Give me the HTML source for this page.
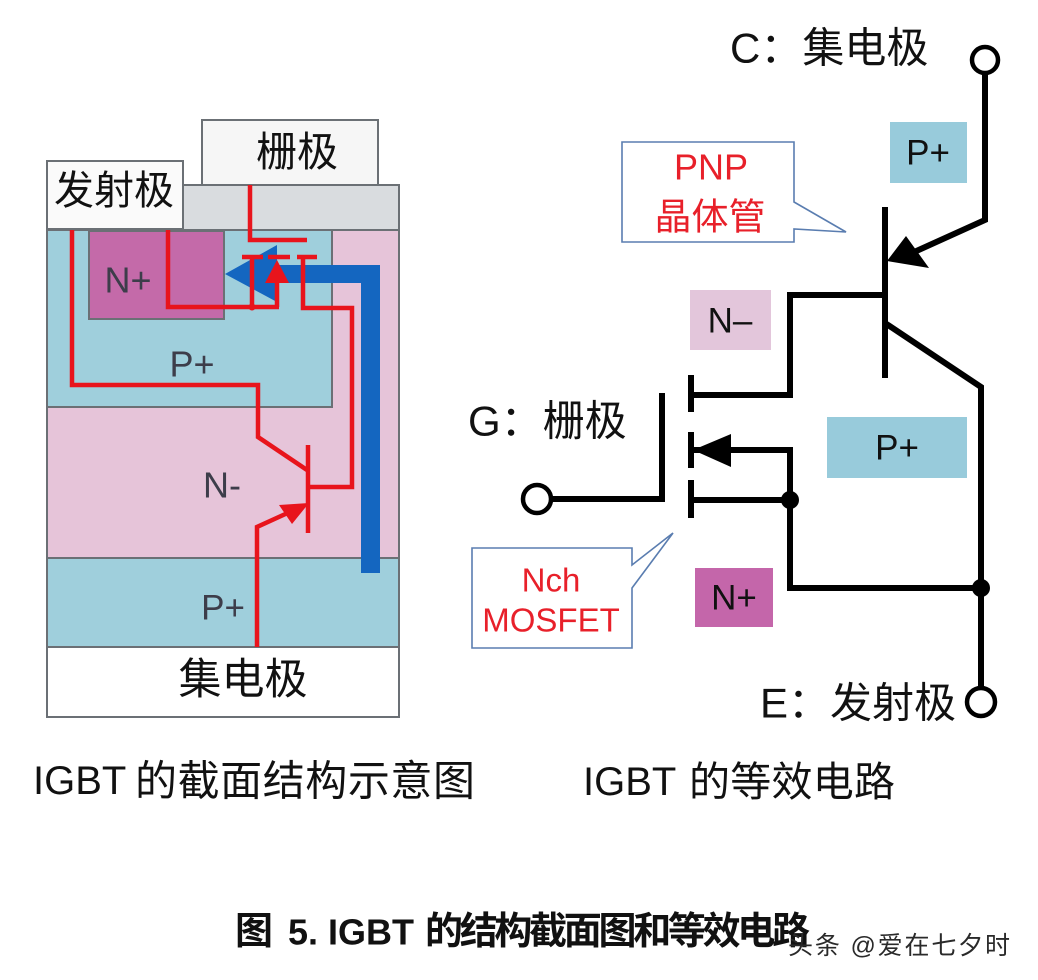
<!DOCTYPE html>
<html><head><meta charset="utf-8"><style>
html,body{margin:0;padding:0;background:#fff;}
svg{display:block;}
text{font-family:"Liberation Sans","Noto Sans CJK SC",sans-serif;}
</style></head><body>
<svg width="1038" height="980" viewBox="0 0 1038 980" xmlns="http://www.w3.org/2000/svg">
<rect width="1038" height="980" fill="#fff"/>
<!-- LEFT STRUCTURE -->
<rect x="183" y="185" width="216" height="45" fill="#d9dcdf" stroke="#6b7075" stroke-width="2"/>
<rect x="202" y="120" width="176" height="65" fill="#f6f6f6" stroke="#6b7075" stroke-width="2"/>
<rect x="47" y="161" width="136" height="68" fill="#fafafa" stroke="#6b7075" stroke-width="2"/>
<rect x="47" y="230" width="352" height="328" fill="#e6c4d9" stroke="#6b7075" stroke-width="2"/>
<rect x="47" y="230" width="285" height="177" fill="#9fcfdc" stroke="#6b7075" stroke-width="2"/>
<rect x="89" y="231" width="135" height="88" fill="#c46aa9" stroke="#6b7075" stroke-width="2"/>
<rect x="47" y="558" width="352" height="89" fill="#9fcfdc" stroke="#6b7075" stroke-width="2"/>
<rect x="47" y="647" width="352" height="70" fill="#fff" stroke="#6b7075" stroke-width="2"/>

<text x="114" y="191" font-size="40" fill="#111" text-anchor="middle" dominant-baseline="central">发射极</text>
<text x="297" y="152" font-size="41" fill="#111" text-anchor="middle" dominant-baseline="central">栅极</text>
<text x="243" y="680" font-size="43" fill="#111" text-anchor="middle" dominant-baseline="central">集电极</text>
<text x="128" y="280" font-size="36" fill="#3d3d4a" text-anchor="middle" dominant-baseline="central">N+</text>
<text x="192" y="364" font-size="36" fill="#3d3d4a" text-anchor="middle" dominant-baseline="central">P+</text>
<text x="222" y="485" font-size="36" fill="#3d3d4a" text-anchor="middle" dominant-baseline="central">N-</text>
<text x="223" y="608" font-size="35" fill="#3d3d4a" text-anchor="middle" dominant-baseline="central">P+</text>

<!-- blue arrow -->
<polygon points="380,265 380,573 361,573 361,283 277,283 277,302 225,274 277,245 277,265" fill="#1466c0"/>

<!-- red lines -->
<g stroke="#e8141c" stroke-width="4.5" fill="none" stroke-linejoin="miter">
<path d="M250,185 V240 H307"/>
<path d="M242,257 H263 M252,257 V307"/>
<path d="M268,257 H290 M277,280 V307"/>
<path d="M297,257 H317 M303,257 V308 H352 V487 H308"/>
<path d="M168,230 V307 H279"/>
<path d="M72,230 V385 H258 V437 L307,470"/>
<path d="M308,445 V533"/>
<path d="M257,647 V527 L292,511"/>
</g>
<polygon points="277,260 265,283 289,283" fill="#e8141c"/>
<polygon points="309,503 279,505 292,524" fill="#e8141c"/>
<circle cx="252" cy="307" r="3.5" fill="#e8141c"/>

<!-- RIGHT CIRCUIT -->
<text x="730" y="48" font-size="42" fill="#111" dominant-baseline="central">C：集电极</text>
<text x="468" y="421" font-size="42" fill="#111" dominant-baseline="central">G：栅极</text>
<text x="760" y="703" font-size="42" fill="#111" dominant-baseline="central">E：发射极</text>

<rect x="890" y="122" width="77" height="61" fill="#98cbdb"/>
<text x="928" y="153" font-size="35" fill="#111" text-anchor="middle" dominant-baseline="central">P+</text>
<rect x="690" y="290" width="81" height="60" fill="#e3c6db"/>
<text x="730" y="321" font-size="35" fill="#111" text-anchor="middle" dominant-baseline="central">N–</text>
<rect x="827" y="417" width="140" height="61" fill="#98cbdb"/>
<text x="897" y="448" font-size="35" fill="#111" text-anchor="middle" dominant-baseline="central">P+</text>
<rect x="695" y="568" width="78" height="59" fill="#c466aa"/>
<text x="734" y="598" font-size="35" fill="#111" text-anchor="middle" dominant-baseline="central">N+</text>

<!-- callouts -->
<path d="M622,142 H794 V202 L846,232 L794,229 V242 H622 Z" fill="#fff" stroke="#5a7db0" stroke-width="1.6"/>
<text x="711" y="167" font-size="36" fill="#e8202a" text-anchor="middle" dominant-baseline="central">PNP</text>
<text x="710" y="217" font-size="37" fill="#e8202a" text-anchor="middle" dominant-baseline="central">晶体管</text>
<path d="M472,548 H632 V565 L673,533 L632,588 V648 H472 Z" fill="#fff" stroke="#5a7db0" stroke-width="1.6"/>
<text x="551" y="580" font-size="33" fill="#e8202a" text-anchor="middle" dominant-baseline="central">Nch</text>
<text x="551" y="620" font-size="33" fill="#e8202a" text-anchor="middle" dominant-baseline="central">MOSFET</text>

<g stroke="#000" stroke-width="6" fill="none" stroke-linejoin="miter">
<path d="M985,73 V220 L912,253"/>
<path d="M885,207 V378"/>
<path d="M885,295 H790 V395 H691"/>
<path d="M885,323 L981,387 V688"/>
<path d="M551,499 H662 V393"/>
<path d="M691,375 V412 M691,432 V468 M691,480 V518"/>
<path d="M691,450 H790 V588 H981"/>
<path d="M691,500 H790"/>
</g>
<polygon points="887,261 906,236 929,268" fill="#000"/>
<polygon points="693,450 731,434 731,467" fill="#000"/>
<circle cx="790" cy="500" r="9" fill="#000"/>
<circle cx="981" cy="588" r="9" fill="#000"/>
<circle cx="985" cy="60" r="13" fill="#fff" stroke="#000" stroke-width="4.5"/>
<circle cx="537" cy="499" r="14" fill="#fff" stroke="#000" stroke-width="4.5"/>
<circle cx="981" cy="702" r="14" fill="#fff" stroke="#000" stroke-width="4.5"/>

<!-- captions -->
<text x="33" y="781" font-size="40" fill="#111" dominant-baseline="central">IGBT</text>
<text x="135" y="781" font-size="42" fill="#111" dominant-baseline="central" textLength="340" lengthAdjust="spacing">的截面结构示意图</text>
<text x="583" y="782" font-size="40" fill="#111" dominant-baseline="central">IGBT</text>
<text x="689" y="782" font-size="41" fill="#111" dominant-baseline="central" textLength="206" lengthAdjust="spacing">的等效电路</text>

<text x="235" y="932" font-size="38" font-weight="bold" fill="#111" dominant-baseline="central">图</text>
<text x="288" y="932" font-size="36" font-weight="bold" fill="#111" dominant-baseline="central" textLength="126" lengthAdjust="spacingAndGlyphs">5. IGBT</text>
<text x="425" y="932" font-size="38" font-weight="bold" fill="#111" dominant-baseline="central" textLength="385" lengthAdjust="spacing">的结构截面图和等效电路</text>
<text x="788" y="946" font-size="25" fill="#2a2a2a" dominant-baseline="central" textLength="222" lengthAdjust="spacing">头条 @爱在七夕时</text>
</svg>
</body></html>
